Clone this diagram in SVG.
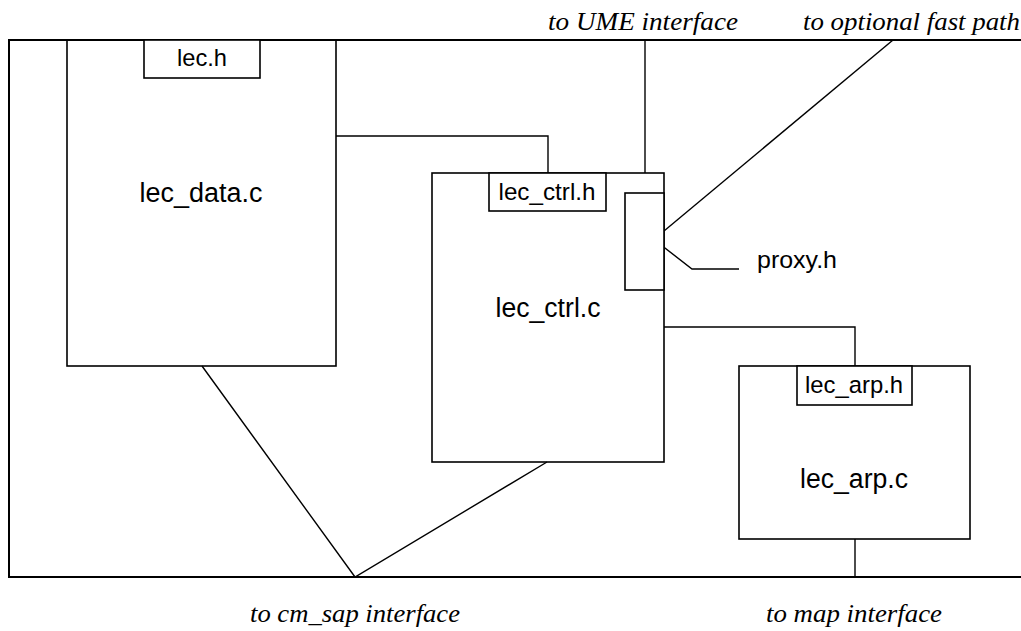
<svg xmlns="http://www.w3.org/2000/svg" width="1021" height="631" viewBox="0 0 1021 631">
<style>
.box{fill:none;stroke:#000;stroke-width:1.6}
.hdr{fill:#fff;stroke:#000;stroke-width:1.6}
.ln{fill:none;stroke:#000;stroke-width:1.4}
.frame{fill:none;stroke:#000;stroke-width:2}
.lbl{font-family:"Liberation Sans",Arial,sans-serif;font-size:27px;fill:#000;text-anchor:middle}
.hl{font-family:"Liberation Sans",Arial,sans-serif;font-size:24.5px;fill:#000;text-anchor:middle}
.it{font-family:"Liberation Serif","Times New Roman",serif;font-style:italic;font-size:26px;fill:#000}
</style>
<rect width="1021" height="631" fill="#fff"/>
<g id="frame">
<path class="frame" d="M1021,40 H9 V577 H1021"/>
</g>
<g id="connectors">
<path class="ln" d="M336,136 H548 V173"/>
<path class="ln" d="M645,40 V173"/>
<path class="ln" d="M893,40 L664,231"/>
<path class="ln" d="M643,231 L692,269 H739"/>
<path class="ln" d="M664,327 H855 V366"/>
<path class="ln" d="M855,539 V577"/>
<path class="ln" d="M202,366 L355,577 L547,462"/>
</g>
<g id="lec_data">
<rect class="box" x="67" y="40" width="269" height="326"/>
<text class="lbl" x="201" y="202" textLength="123" lengthAdjust="spacingAndGlyphs">lec_data.c</text>
</g>
<g id="lec_h">
<rect class="hdr" x="144" y="40" width="116" height="38"/>
<text class="hl" x="202" y="66" textLength="50" lengthAdjust="spacingAndGlyphs">lec.h</text>
</g>
<g id="lec_ctrl">
<rect class="box" x="432" y="173" width="232" height="289"/>
<text class="lbl" x="548" y="317" textLength="105" lengthAdjust="spacingAndGlyphs">lec_ctrl.c</text>
</g>
<g id="lec_ctrl_h">
<rect class="hdr" x="489" y="173" width="117" height="38"/>
<text class="hl" x="547" y="200" textLength="97" lengthAdjust="spacingAndGlyphs">lec_ctrl.h</text>
</g>
<g id="proxy_h">
<rect class="hdr" x="625" y="193" width="39" height="97"/>
<text class="hl" x="757" y="268" style="text-anchor:start" textLength="80" lengthAdjust="spacingAndGlyphs">proxy.h</text>
</g>
<g id="lec_arp">
<rect class="box" x="739" y="366" width="231" height="173"/>
<text class="lbl" x="854" y="488" textLength="108" lengthAdjust="spacingAndGlyphs">lec_arp.c</text>
</g>
<g id="lec_arp_h">
<rect class="hdr" x="797" y="366" width="115" height="39"/>
<text class="hl" x="854" y="393" textLength="98" lengthAdjust="spacingAndGlyphs">lec_arp.h</text>
</g>
<g id="labels">
<text class="it" x="548" y="30" textLength="190" lengthAdjust="spacingAndGlyphs">to UME interface</text>
<text class="it" x="803" y="30" textLength="217" lengthAdjust="spacingAndGlyphs">to optional fast path</text>
<text class="it" x="250" y="622" textLength="210" lengthAdjust="spacingAndGlyphs">to cm_sap interface</text>
<text class="it" x="766" y="622" textLength="176" lengthAdjust="spacingAndGlyphs">to map interface</text>
</g>
</svg>
